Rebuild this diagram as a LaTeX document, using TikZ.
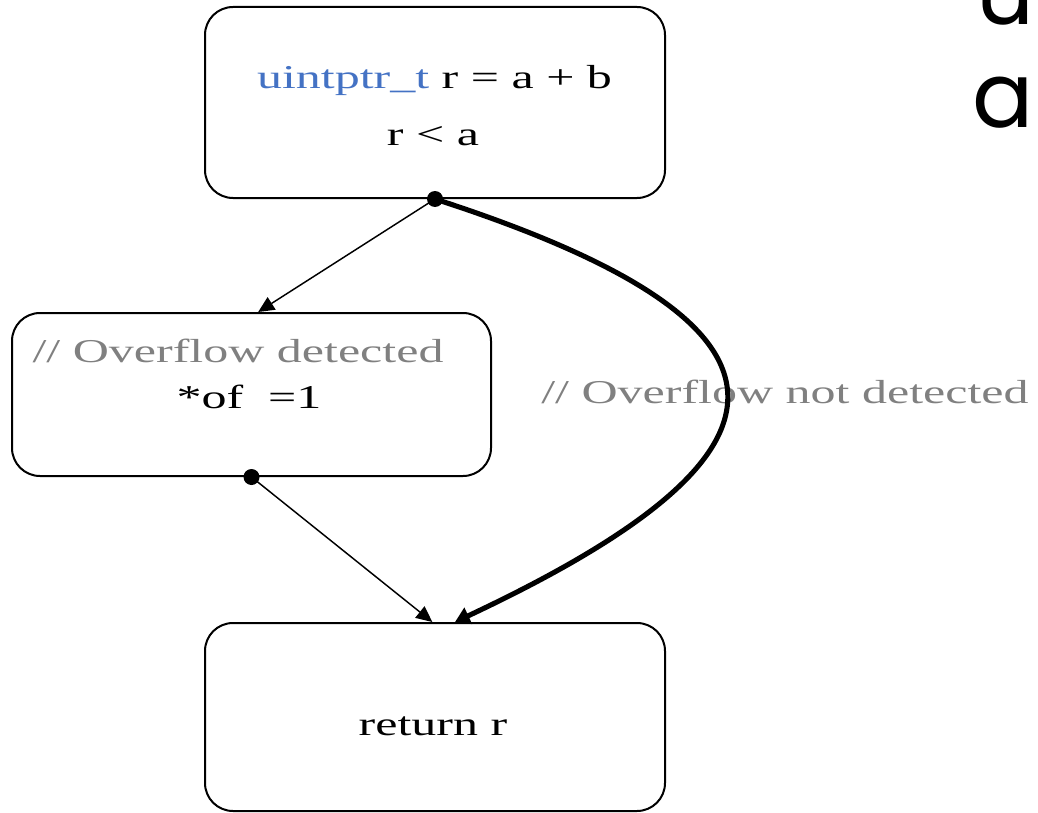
\documentclass[tikz,border=0pt]{standalone}
\usepackage{fontspec}
\setmainfont[FakeStretch=1.5]{Liberation Serif}
\newfontfamily\headfont{Poppins}
\usetikzlibrary{arrows.meta}
\definecolor{typeblue}{RGB}{68,114,196}
\definecolor{commentgray}{RGB}{128,128,128}
\begin{document}
\begin{tikzpicture}[x=0.75pt,y=-0.75pt,
  codebox/.style={draw, line width=1.5pt, rounded corners=21pt, inner sep=0pt},
  codetext/.style={inner sep=0pt, anchor=base, font=\fontsize{25}{30}\selectfont},
  comment/.style={codetext, text=commentgray},
  thinflow/.style={line width=1.1pt, -{Triangle[length=12pt,width=11pt]}},
  thickflow/.style={line width=3.8pt, -{Triangle[length=11pt,width=13pt]}},
  dot/.style={fill=black}]
\useasboundingbox (0,0) rectangle (1038,813);
\clip (0,0) rectangle (1038,813);

% slide heading, running off the right edge
\node[anchor=base west, inner sep=0pt, font=\headfont\fontsize{68}{80}\selectfont] (h1) at (976,25) {us};
\node[anchor=base west, inner sep=0pt, font=\headfont\fontsize{68}{80}\selectfont] (h2) at (972,128) {a};

% basic blocks
\node[codebox, minimum width=345pt, minimum height=143.25pt] (top) at (435,102.5) {};
\node[codebox, minimum width=359.25pt, minimum height=122.25pt] (mid) at (251.5,394.5) {};
\node[codebox, minimum width=345pt, minimum height=141pt] (bot) at (435,717) {};

% block contents
\node[codetext] (t1) at (434.5,89) {\textcolor{typeblue}{uintptr\_t} r = a + b};
\node[codetext] (t2) at (433,146) {r < a};
\node[comment] (m1) at (238,362) {// Overflow detected};
\node[codetext] (m2) at (249,408) {*of~ =1};
\node[codetext] (b1) at (433,735) {return r};
\node[comment, anchor=base west] (lbl) at (541,403) {// Overflow not detected};

% control flow
\draw[thinflow] (top.south) -- ([xshift=5pt]mid.north);
\draw[thinflow] (mid.south) -- ([xshift=-2pt]bot.north);
\draw[thickflow] (top.south) .. controls (840,330) and (800,460) .. ([xshift=15pt]bot.north);
\fill[dot] (top.south) circle (6pt);
\fill[dot] (mid.south) circle (6pt);
\end{tikzpicture}
\end{document}
